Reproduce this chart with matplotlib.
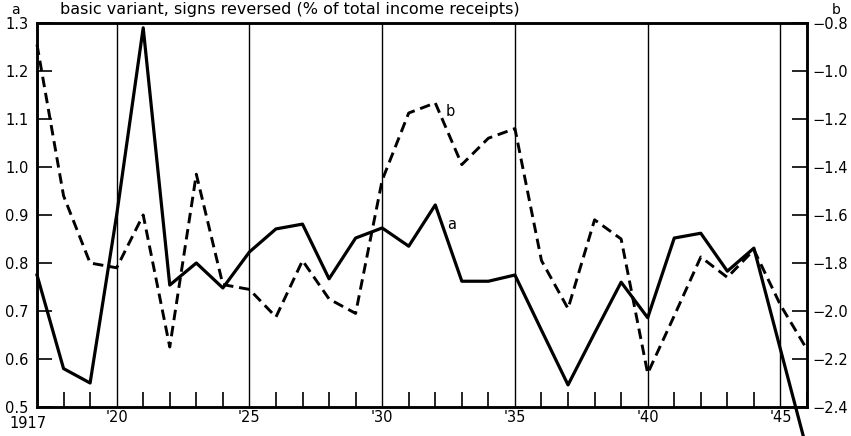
import numpy as np
import matplotlib.pyplot as plt
import matplotlib.transforms as mtransforms

# data
years = list(range(1917, 1947))
# series a, left scale
a_vals = [0.775, 0.58, 0.55, 0.90, 1.29, 0.754, 0.80, 0.748, 0.823, 0.871,
          0.881, 0.767, 0.852, 0.873, 0.835, 0.921, 0.762, 0.762, 0.775, 0.66,
          0.546, 0.654, 0.76, 0.686, 0.852, 0.862, 0.783, 0.831, 0.62, 0.41]
# series b, right scale (signs reversed)
b_vals = [-0.89, -1.52, -1.80, -1.82, -1.60, -2.15, -1.43, -1.89, -1.91, -2.025,
          -1.79, -1.95, -2.01, -1.455, -1.175, -1.133, -1.39, -1.28, -1.24, -1.79,
          -1.99, -1.62, -1.70, -2.26, -2.02, -1.775, -1.86, -1.745, -1.975, -2.16]

xticks = [1917, 1920, 1925, 1930, 1935, 1940, 1945]
xtick_labels = ['1917', "'20", "'25", "'30", "'35", "'40", "'45"]
a_ticks = [0.5, 0.6, 0.7, 0.8, 0.9, 1.0, 1.1, 1.2, 1.3]
b_ticks = [-2.4, -2.2, -2.0, -1.8, -1.6, -1.4, -1.2, -1.0, -0.8]

plt.rcParams['font.family'] = 'DejaVu Sans'

fig = plt.figure(figsize=(8.51, 4.36), dpi=100)
ax = fig.add_axes([37/851, 29/436, 770/851, 384/436])
ax2 = ax.twinx()

ax.set_xlim(1917, 1946)
ax.set_ylim(0.5, 1.3)
ax2.set_ylim(-2.4, -0.8)

# five-year rules
ax.set_xticks(xticks)
ax.set_xticklabels(xtick_labels, fontsize=10.5)
ax.set_xticks(years, minor=True)
ax.xaxis.grid(True, which='major', color='black', linewidth=1.0)
ax.tick_params(axis='x', which='major', length=0, pad=2)
ax.tick_params(axis='x', which='minor', direction='in', length=11, width=1.2)

# nudge the 1917 label left and down, clear of 0.5
lab0 = ax.get_xticklabels()[0]
lab0.set_transform(lab0.get_transform() +
                   mtransforms.ScaledTranslation(-9/100, -6/100, fig.dpi_scale_trans))

ax.set_yticks(a_ticks)
ax.set_yticklabels(['%.1f' % v for v in a_ticks], fontsize=10.5)
ax.tick_params(axis='y', direction='in', length=11, width=1.2, pad=6)

ax2.set_yticks(b_ticks)
ax2.set_yticklabels(['\u2212%.1f' % abs(v) for v in b_ticks], fontsize=10.5)
ax2.tick_params(axis='y', direction='in', length=11, width=1.2, pad=4)

for a in (ax, ax2):
    for s in a.spines.values():
        s.set_linewidth(1.8)

ax.plot(years, a_vals, color='black', linewidth=2.3, clip_on=False, zorder=5)
ax2.plot(years, b_vals, color='black', linewidth=2.1, linestyle=(0, (3.6, 2.0)),
         clip_on=False, zorder=5)

ax.text(1932.45, 0.88, 'a', fontsize=10.5, ha='left', va='center')
ax.text(1932.4, 1.115, 'b', fontsize=10.5, ha='left', va='center')

fig.text(15/851, 1 - 10/436, 'a', fontsize=10, ha='center', va='center')
fig.text(836/851, 1 - 10/436, 'b', fontsize=10, ha='center', va='center')
fig.text(60/851, 1 - 14/436,
         'basic variant, signs reversed (% of total income receipts)',
         fontsize=11.5, ha='left', va='baseline')

fig.savefig('out.png', dpi=100)
